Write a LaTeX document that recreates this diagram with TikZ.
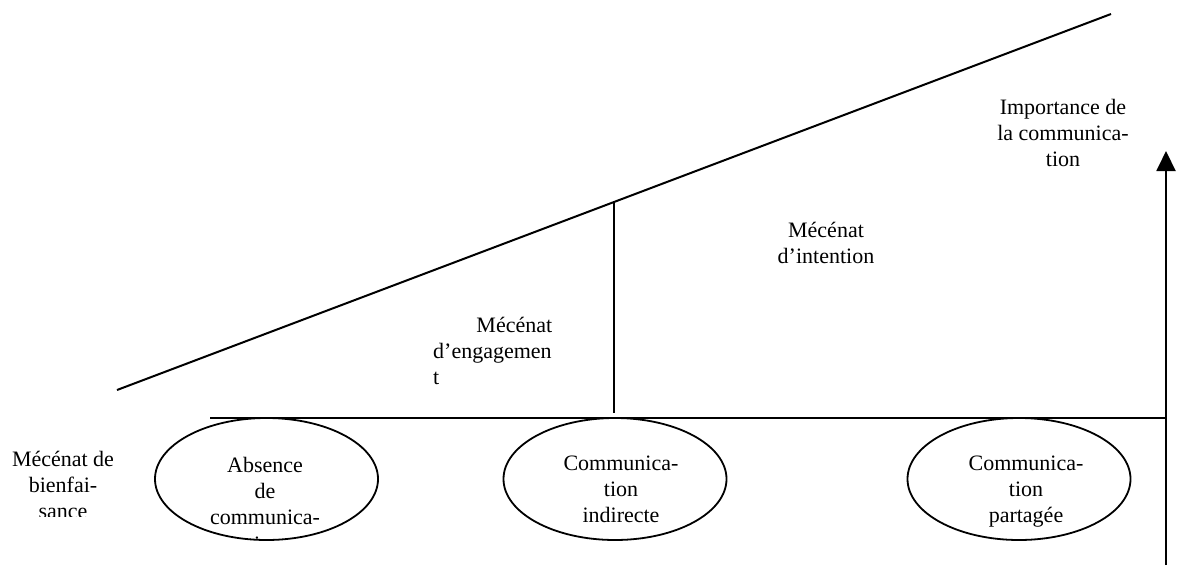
\documentclass[tikz,border=0pt]{standalone}
\usepackage{fontspec}
\setmainfont{Liberation Serif}
\usetikzlibrary{shapes.geometric,arrows.meta}
\tikzset{
  ln/.style={line width=2pt, black},
  bubble/.style={draw, line width=1.8pt, ellipse, minimum width=223pt, minimum height=122pt, inner sep=0pt},
  lbl/.style={font=\fontsize{22}{26.4}\selectfont, inner sep=0pt, align=center, anchor=base},
}
\begin{document}
\begin{tikzpicture}[x=1pt,y=-1pt]
\useasboundingbox (0,0) rectangle (1177,568);
% lines
\coordinate (s0) at (117,390);
\coordinate (s1) at (1111,14);
\coordinate (d0) at (614,202);
\coordinate (d1) at (614,413);
\coordinate (h0) at (210,418);
\coordinate (h1) at (1166,418);
\coordinate (a0) at (1166,565);
\coordinate (a1) at (1166,151);
\draw[ln] (s0) -- (s1);
\draw[ln] (d0) -- (d1);
\draw[ln] (h0) -- (h1);
\draw[ln, -{Triangle[length=20pt,width=19pt]}] (a0) -- (a1);
% ellipses
\node[bubble] (e1) at (266.5,479) {};
\node[bubble] (e2) at (615,479) {};
\node[bubble] (e3) at (1019,479) {};
% texts (anchor base = baseline of the last line)
\begin{scope}
\clip (0,430) rectangle (140,516);
\node[lbl] (bienf) at (63,518.8) {Mécénat de\\bienfai-\\sance};
\end{scope}
\begin{scope}
\clip (190,440) rectangle (345,538);
\node[lbl] (t1) at (265,551.2) {Absence\\de\\communica-\\tion};
\end{scope}
\node[lbl] (t2) at (621,522.8) {Communica-\\tion\\indirecte};
\node[lbl] (t3) at (1026,522.8) {Communica-\\tion\\partagée};
\node[lbl, align=left, text width=119pt, anchor=base west] (eng) at (433,332) {\hspace*{\fill}Mécénat\\d’engagemen\\t};
\node[lbl] (intent) at (826,263.4) {Mécénat\\d’intention};
\node[lbl] (imp) at (1063,166.8) {Importance de\\la communica-\\tion};
\end{tikzpicture}
\end{document}
